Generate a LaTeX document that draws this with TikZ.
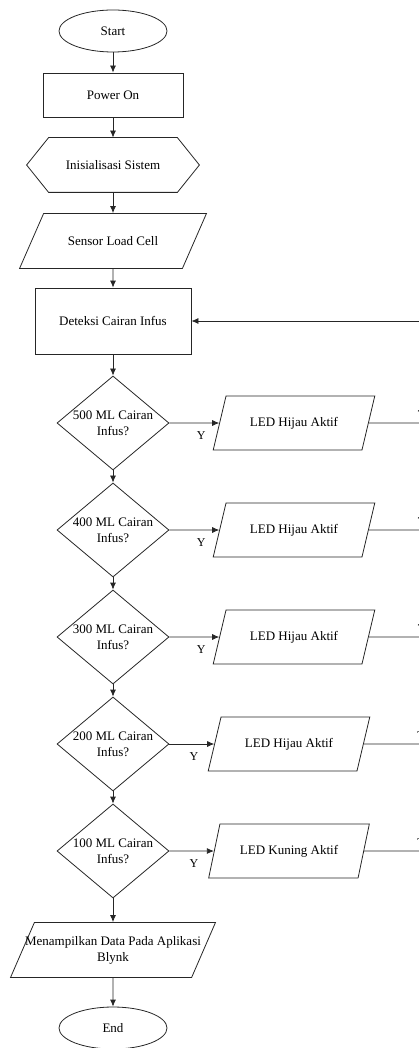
\documentclass[tikz,border=0pt]{standalone}
\usepackage{fontspec}
\setmainfont{Liberation Serif}
\usetikzlibrary{shapes.geometric,arrows.meta}

\begin{document}
\begin{tikzpicture}[x=1pt, y=-1pt, line width=0.8pt, draw=black!85,
  every node/.style={font=\fontsize{13}{16}\selectfont},
  terminal/.style={ellipse, draw, minimum width=108pt, minimum height=42pt, inner sep=0pt},
  process/.style={rectangle, draw, minimum width=140pt, minimum height=44pt},
  io/.style={trapezium, draw, trapezium left angle=72, trapezium right angle=108,
    trapezium stretches=true, minimum width=162pt, minimum height=54pt, inner xsep=-12pt},
  decision/.style={diamond, draw, minimum width=112pt, minimum height=94pt,
    inner xsep=-30pt, inner ysep=-10pt, align=center},
  arrow/.style={draw, -{Latex[length=7pt,width=6pt]}},
  line/.style={draw},
  mark label/.style={font=\fontsize{12}{14}\selectfont, inner sep=1pt},
]

\useasboundingbox (0,0) rectangle (419,1048);
\clip (0,0) rectangle (419,1048);



% Start up
\path
(113,31) node[terminal] (start) {Start}
(113,95) node[process] (power) {Power On}
(113,165) node[minimum width=172pt, minimum height=54pt] (init) {Inisialisasi Sistem}
(113,241) node[io, minimum width=187pt, minimum height=55pt,
  trapezium left angle=54, trapezium right angle=126] (sensor) {Sensor Load Cell}
(113,321) node[process, minimum width=156pt, minimum height=66pt] (detect) {Deteksi Cairan Infus};

\draw (init.west) -- ([xshift=22pt]init.north west) -- ([xshift=-22pt]init.north east)
  -- (init.east) -- ([xshift=-22pt]init.south east) -- ([xshift=22pt]init.south west) -- cycle;

\draw[arrow] (start) -- (power);
\draw[arrow] (power) -- (init);
\draw[arrow] (init) -- (sensor);
\draw[arrow] (sensor) -- (detect);


% 500 ML check
\path
(113,423) node[decision] (check500) {500 ML Cairan\\Infus?}
(294,423) node[io] (led500) {LED Hijau Aktif}
(440,423) coordinate (back500);

\draw[arrow] (detect) -- (check500);
\draw[arrow] (check500.east) -- node[mark label, pos=0.64, below=7pt] (yes500) {Y} (led500);
\draw[line] (led500.east) -- node[mark label, pos=0.74, above=3pt] (no500) {T} (back500);


% 400 ML check
\path
(113,530) node[decision] (check400) {400 ML Cairan\\Infus?}
(294,530) node[io] (led400) {LED Hijau Aktif}
(440,530) coordinate (back400);

\draw[arrow] (check500) -- (check400);
\draw[arrow] (check400.east) -- node[mark label, pos=0.64, below=7pt] (yes400) {Y} (led400);
\draw[line] (led400.east) -- node[mark label, pos=0.74, above=3pt] (no400) {T} (back400);


% 300 ML check
\path
(113,637) node[decision] (check300) {300 ML Cairan\\Infus?}
(294,637) node[io] (led300) {LED Hijau Aktif}
(440,637) coordinate (back300);

\draw[arrow] (check400) -- (check300);
\draw[arrow] (check300.east) -- node[mark label, pos=0.64, below=7pt] (yes300) {Y} (led300);
\draw[line] (led300.east) -- node[mark label, pos=0.74, above=3pt] (no300) {T} (back300);


% 200 ML check
\path
(113,744) node[decision] (check200) {200 ML Cairan\\Infus?}
(289,744) node[io] (led200) {LED Hijau Aktif}
(440,744) coordinate (back200);

\draw[arrow] (check300) -- (check200);
\draw[arrow] (check200.east) -- node[mark label, pos=0.55, below=7pt] (yes200) {Y} (led200);
\draw[line] (led200.east) -- node[mark label, pos=0.75, above=3pt] (no200) {T} (back200);


% 100 ML check
\path
(113,851) node[decision] (check100) {100 ML Cairan\\Infus?}
(289,851) node[io] (led100) {LED Kuning Aktif}
(440,851) coordinate (back100);

\draw[arrow] (check200) -- (check100);
\draw[arrow] (check100.east) -- node[mark label, pos=0.55, below=7pt] (yes100) {Y} (led100);
\draw[line] (led100.east) -- node[mark label, pos=0.75, above=3pt] (no100) {T} (back100);

% loop back to detection
\draw[arrow] (back100) |- (detect.east);


% Output and end
\path
(113,950) node[io, minimum width=205pt, minimum height=55pt, inner xsep=-30pt, align=center,
  trapezium left angle=63, trapezium right angle=117] (display) {Menampilkan Data Pada Aplikasi\\Blynk}
(113,1028) node[terminal] (end) {End};

\draw[arrow] (check100) -- (display);
\draw[arrow] (display) -- (end);



\end{tikzpicture}
\end{document}
